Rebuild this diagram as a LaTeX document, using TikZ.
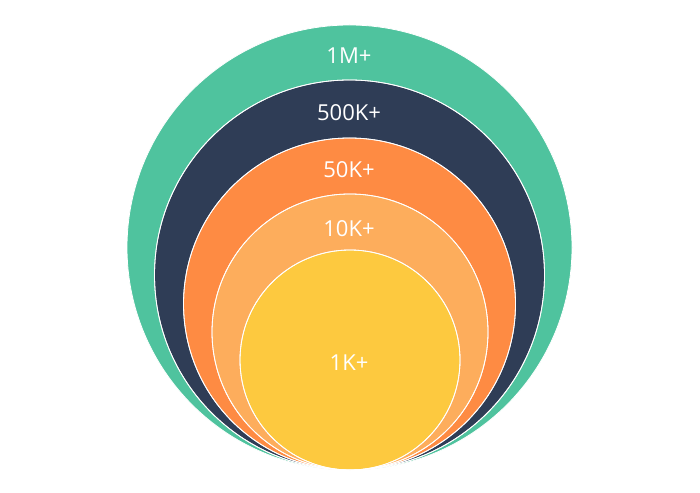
\documentclass[tikz,border=0pt]{standalone}
\usepackage{fontspec}
\setmainfont{Open Sans}
\definecolor{ringgreen}{HTML}{4FC39E}
\definecolor{ringnavy}{HTML}{2F3D56}
\definecolor{ringorange}{HTML}{FE8B43}
\definecolor{ringpeach}{HTML}{FDAD5C}
\definecolor{ringyellow}{HTML}{FDC93F}
\begin{document}
\begin{tikzpicture}
	[x=1pt,y=1pt,ring/.style={draw=white,line width=0.8pt},tag/.style={text=white,font=\fontsize{22}{26}\selectfont,inner sep=0pt}]
\useasboundingbox (0,0) rectangle (700,492);
\fill[ring,fill=ringgreen] (349.5,244.5) circle (222.5);
\fill[ring,fill=ringnavy] (349.5,217) circle (195);
\fill[ring,fill=ringorange] (349.5,188) circle (166);
\fill[ring,fill=ringpeach] (350,160) circle (138);
\fill[ring,fill=ringyellow] (350,132) circle (110);
\draw[ring] (349.5,217) circle (195);
\draw[ring] (349.5,188) circle (166);
\draw[ring] (350,160) circle (138);
\draw[ring] (350,132) circle (110);
\node[tag,name=m1] at (349,436) {1M+};
\node[tag,name=k500] at (349,379) {500K+};
\node[tag,name=k50] at (349,322) {50K+};
\node[tag,name=k10] at (349,263) {10K+};
\node[tag,name=k1] at (349,129) {1K+};
\end{tikzpicture}
\end{document}
